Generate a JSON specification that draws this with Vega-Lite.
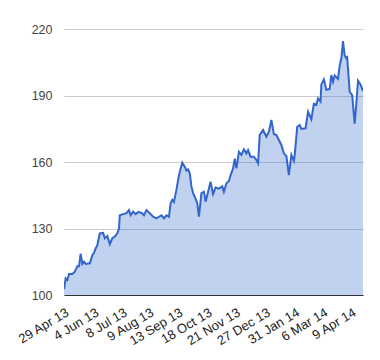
{
  "$schema": "https://vega.github.io/schema/vega-lite/v6.json",
  "width": 299,
  "height": 266,
  "autosize": {"type": "none"},
  "padding": {"left": 64, "top": 29, "right": 17, "bottom": 65},
  "background": "white",
  "config": {"view": {"stroke": null}},
  "data": {"values": [
    {"date": "2013-04-29", "price": 102.6},
    {"date": "2013-05-01", "price": 107.5},
    {"date": "2013-05-03", "price": 106.8},
    {"date": "2013-05-05", "price": 109.5},
    {"date": "2013-05-09", "price": 109.5},
    {"date": "2013-05-12", "price": 110.5},
    {"date": "2013-05-15", "price": 113},
    {"date": "2013-05-17", "price": 113},
    {"date": "2013-05-19", "price": 118.6},
    {"date": "2013-05-21", "price": 114},
    {"date": "2013-05-23", "price": 115},
    {"date": "2013-05-25", "price": 114},
    {"date": "2013-05-30", "price": 114.3},
    {"date": "2013-06-02", "price": 118},
    {"date": "2013-06-04", "price": 119},
    {"date": "2013-06-06", "price": 121},
    {"date": "2013-06-08", "price": 122.5},
    {"date": "2013-06-11", "price": 127.8},
    {"date": "2013-06-15", "price": 128},
    {"date": "2013-06-17", "price": 125.6},
    {"date": "2013-06-20", "price": 126.6},
    {"date": "2013-06-23", "price": 123},
    {"date": "2013-06-26", "price": 125.6},
    {"date": "2013-06-29", "price": 126.3},
    {"date": "2013-07-02", "price": 127.8},
    {"date": "2013-07-04", "price": 130},
    {"date": "2013-07-05", "price": 136},
    {"date": "2013-07-09", "price": 136.5},
    {"date": "2013-07-13", "price": 136.9},
    {"date": "2013-07-16", "price": 138.3},
    {"date": "2013-07-18", "price": 136},
    {"date": "2013-07-21", "price": 137.6},
    {"date": "2013-07-24", "price": 136.5},
    {"date": "2013-07-27", "price": 137.4},
    {"date": "2013-07-31", "price": 137.1},
    {"date": "2013-08-03", "price": 136},
    {"date": "2013-08-06", "price": 138.3},
    {"date": "2013-08-10", "price": 136.9},
    {"date": "2013-08-14", "price": 135.3},
    {"date": "2013-08-18", "price": 134.6},
    {"date": "2013-08-21", "price": 135.3},
    {"date": "2013-08-24", "price": 136},
    {"date": "2013-08-27", "price": 134.6},
    {"date": "2013-08-30", "price": 136},
    {"date": "2013-09-02", "price": 135.3},
    {"date": "2013-09-04", "price": 141.4},
    {"date": "2013-09-06", "price": 142.9},
    {"date": "2013-09-08", "price": 142},
    {"date": "2013-09-11", "price": 147.4},
    {"date": "2013-09-13", "price": 151.9},
    {"date": "2013-09-15", "price": 155.6},
    {"date": "2013-09-18", "price": 159.7},
    {"date": "2013-09-21", "price": 157.9},
    {"date": "2013-09-23", "price": 156.1},
    {"date": "2013-09-25", "price": 156.7},
    {"date": "2013-09-27", "price": 154.9},
    {"date": "2013-09-29", "price": 149},
    {"date": "2013-10-01", "price": 145.9},
    {"date": "2013-10-04", "price": 143.5},
    {"date": "2013-10-06", "price": 141.4},
    {"date": "2013-10-08", "price": 135.3},
    {"date": "2013-10-11", "price": 146},
    {"date": "2013-10-14", "price": 146.6},
    {"date": "2013-10-16", "price": 142.1},
    {"date": "2013-10-19", "price": 146.6},
    {"date": "2013-10-22", "price": 151.1},
    {"date": "2013-10-25", "price": 145.5},
    {"date": "2013-10-28", "price": 148.5},
    {"date": "2013-11-01", "price": 148},
    {"date": "2013-11-05", "price": 149},
    {"date": "2013-11-07", "price": 146.6},
    {"date": "2013-11-10", "price": 150.4},
    {"date": "2013-11-13", "price": 151.5},
    {"date": "2013-11-15", "price": 154},
    {"date": "2013-11-18", "price": 157.1},
    {"date": "2013-11-20", "price": 161.5},
    {"date": "2013-11-22", "price": 157.1},
    {"date": "2013-11-25", "price": 164.6},
    {"date": "2013-11-28", "price": 163.2},
    {"date": "2013-12-01", "price": 165.7},
    {"date": "2013-12-04", "price": 163.9},
    {"date": "2013-12-06", "price": 165.4},
    {"date": "2013-12-09", "price": 162.4},
    {"date": "2013-12-13", "price": 162.4},
    {"date": "2013-12-16", "price": 160.9},
    {"date": "2013-12-18", "price": 159.4},
    {"date": "2013-12-20", "price": 172.2},
    {"date": "2013-12-24", "price": 174.4},
    {"date": "2013-12-28", "price": 171.4},
    {"date": "2013-12-31", "price": 173.7},
    {"date": "2014-01-03", "price": 179},
    {"date": "2014-01-06", "price": 172.5},
    {"date": "2014-01-09", "price": 172.2},
    {"date": "2014-01-12", "price": 169.9},
    {"date": "2014-01-15", "price": 167.7},
    {"date": "2014-01-18", "price": 163.9},
    {"date": "2014-01-21", "price": 162.7},
    {"date": "2014-01-24", "price": 154.1},
    {"date": "2014-01-27", "price": 163.2},
    {"date": "2014-01-30", "price": 160.5},
    {"date": "2014-01-31", "price": 163},
    {"date": "2014-02-03", "price": 175.9},
    {"date": "2014-02-06", "price": 176.7},
    {"date": "2014-02-08", "price": 174.9},
    {"date": "2014-02-13", "price": 175.2},
    {"date": "2014-02-16", "price": 182.7},
    {"date": "2014-02-20", "price": 179.3},
    {"date": "2014-02-23", "price": 186.2},
    {"date": "2014-02-26", "price": 185.8},
    {"date": "2014-02-28", "price": 188.7},
    {"date": "2014-03-03", "price": 187.3},
    {"date": "2014-03-04", "price": 195},
    {"date": "2014-03-07", "price": 197.3},
    {"date": "2014-03-10", "price": 192.6},
    {"date": "2014-03-14", "price": 193},
    {"date": "2014-03-16", "price": 199.2},
    {"date": "2014-03-18", "price": 196.2},
    {"date": "2014-03-20", "price": 199},
    {"date": "2014-03-24", "price": 197.5},
    {"date": "2014-03-26", "price": 203.5},
    {"date": "2014-03-28", "price": 206.8},
    {"date": "2014-03-30", "price": 214.5},
    {"date": "2014-04-01", "price": 208},
    {"date": "2014-04-03", "price": 206.8},
    {"date": "2014-04-04", "price": 207.2},
    {"date": "2014-04-07", "price": 191.7},
    {"date": "2014-04-10", "price": 190.2},
    {"date": "2014-04-13", "price": 177.3},
    {"date": "2014-04-15", "price": 186.5},
    {"date": "2014-04-17", "price": 196.7},
    {"date": "2014-04-20", "price": 195},
    {"date": "2014-04-23", "price": 192}
  ]},
  "mark": {
    "type": "area",
    "color": "#3366cc",
    "fillOpacity": 0.3,
    "line": {"color": "#3366cc", "strokeWidth": 2},
    "clip": true
  },
  "encoding": {
    "x": {
      "field": "date",
      "type": "temporal",
      "scale": {
        "type": "utc",
        "domain": [
          {"year": 2013, "month": 4, "date": 29, "utc": true},
          {"year": 2014, "month": 4, "date": 23, "utc": true}
        ],
        "nice": false
      },
      "axis": {
        "title": null,
        "values": [
          {"year": 2013, "month": 4, "date": 29, "utc": true},
          {"year": 2013, "month": 6, "date": 4, "utc": true},
          {"year": 2013, "month": 7, "date": 8, "utc": true},
          {"year": 2013, "month": 8, "date": 9, "utc": true},
          {"year": 2013, "month": 9, "date": 13, "utc": true},
          {"year": 2013, "month": 10, "date": 18, "utc": true},
          {"year": 2013, "month": 11, "date": 21, "utc": true},
          {"year": 2013, "month": 12, "date": 27, "utc": true},
          {"year": 2014, "month": 1, "date": 31, "utc": true},
          {"year": 2014, "month": 3, "date": 6, "utc": true},
          {"year": 2014, "month": 4, "date": 9, "utc": true}
        ],
        "format": "%-d %b %y",
        "labelAngle": -31,
        "labelFont": "Liberation Sans",
        "labelFontSize": 13,
        "labelColor": "#222222",
        "labelPadding": 11,
        "labelOverlap": false,
        "labelBound": false,
        "labelFlush": false,
        "ticks": false,
        "grid": false,
        "domainColor": "#333333",
        "domainWidth": 1
      }
    },
    "y": {
      "field": "price",
      "type": "quantitative",
      "scale": {"domain": [100, 220], "zero": false, "nice": false},
      "axis": {
        "title": null,
        "values": [100, 130, 160, 190, 220],
        "labelFont": "Liberation Sans",
        "labelFontSize": 12.5,
        "labelColor": "#444444",
        "labelPadding": 12,
        "ticks": false,
        "domain": false,
        "gridColor": "#cccccc",
        "gridWidth": 1
      }
    },
    "y2": {"datum": 100}
  }
}
